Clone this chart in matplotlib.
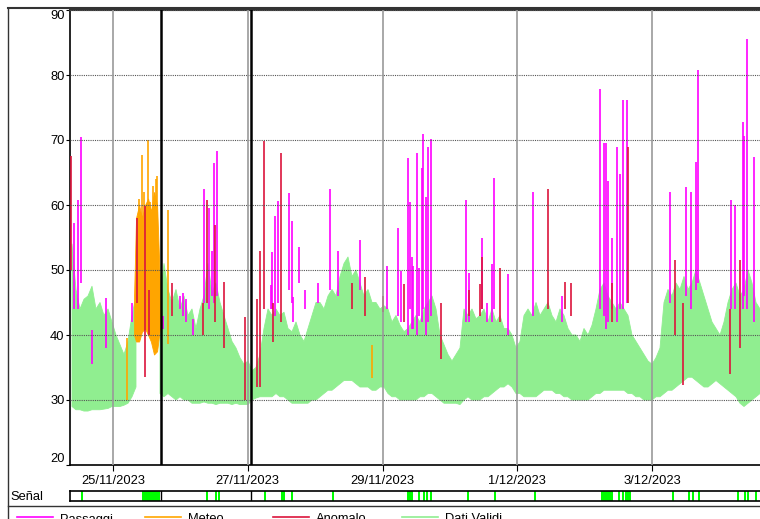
import numpy as np
import pandas as pd
import matplotlib
matplotlib.use("Agg")
import matplotlib.pyplot as plt
import matplotlib.dates as mdates
from matplotlib.lines import Line2D
from datetime import datetime, timedelta

plt.rcParams['font.family'] = ['Liberation Sans', 'DejaVu Sans']

T0 = datetime(2023, 11, 24)

# Dati Validi: banda min / max su campioni regolari
valid_times = pd.date_range("2023-11-24 09:24", "2023-12-04 14:23", periods=173)
valid_lo = [29.0, 28.5, 28.5, 28.3, 28.3, 28.5, 28.5, 28.5, 28.6, 28.7,
            29.0, 29.0, 29.0, 29.2, 29.5, 30.5, 32.0, np.nan, np.nan, np.nan,
            np.nan, np.nan, 31.0,
            30.5, 31, 30.5, 30, 30.5, 30, 30, 29.5, 29.5, 29.5,
            29.7, 29.5, 29.5, 29.3, 29.5, 29.5, 29.5, 29.3, 29.5, 29.3,
            29.3, 29.3, 30, 30.3, 30.5, 30.5, 30.5, 30.5, 31, 30.5,
            30.5, 30, 29.5, 29.5, 29.5, 29.5, 29.5, 30, 30, 30.5,
            31, 31.5, 31.5, 32, 32.5, 33, 33, 33, 32.5, 32,
            32, 32, 31.5, 31.5, 32, 32, 31, 30.5, 30.5, 30,
            30, 30, 30, 30, 30.5, 30.5, 31, 31, 30.5, 30,
            29.5, 29.5, 29.5, 29.5, 29.3, 30, 30.5, 30, 30, 30,
            30.5, 30.5, 31, 31.5, 32, 32, 32.5, 32, 31, 31,
            30.5, 30.5, 30.5, 30.5, 31, 31.5, 31.5, 31.5, 31, 31,
            30.5, 30.5, 30, 30, 30, 30, 30, 30.5, 31, 31,
            31.5, 31.5, 31.5, 31.5, 31.5, 31.5, 31, 31, 30.5, 30.5,
            30, 30, 30, 30.5, 30.5, 31, 31.5, 31.5, 32, 32.5,
            33, 33.5, 33.5, 33, 32.5, 32, 32, 32.5, 33, 32.5,
            32, 31.5, 31, 30.5, 29.5, 29, 29.5, 30, 30.5, 31]
valid_hi = [54, 47, 44, 45.5, 46, 47.5, 44, 45, 43, 44,
            42, 40, 38.5, 37, 39, 43, 46, np.nan, np.nan, np.nan,
            np.nan, np.nan, 45,
            51, 47, 45, 47, 44, 46, 43, 44, 41, 44,
            46, 51, 46.5, 48, 45, 43, 41, 39, 38, 36.5,
            35.5, 36, 34.5, 35, 37, 41, 44, 43, 44, 43,
            43.5, 41, 40.5, 42, 40, 39, 41, 43, 45, 45,
            44, 46, 47, 46, 49, 51, 52, 49, 50, 48,
            46, 47, 45, 45, 44, 44.5, 44, 42, 43, 41.5,
            40.5, 41, 42, 43, 42, 44, 45, 46, 44, 40,
            38.5, 37, 36, 37, 38, 44, 43, 44, 42.5, 43,
            44, 42, 44, 42, 43, 41, 41, 40, 38, 39,
            43, 44, 43, 45, 43, 44, 45, 43, 42, 44,
            43, 41, 40, 40, 39, 41, 40, 41.5, 44, 47,
            48, 46, 45, 44, 45, 44, 43, 40, 39, 38,
            37, 36, 35.5, 36.5, 38, 45, 47, 46, 48, 47,
            49, 47, 48, 50, 48, 46, 44, 42, 41, 40,
            42, 45, 47, 48, 46, 47, 50, 48, 45, 44]

# Meteo: corpo della banda (ore dal 24/11 00:00)
meteo_h = [31.5, 32.2, 33.3, 34.3, 35.4, 36.5, 37.5, 38.6, 39.7, 40.7]
meteo_lo = [40, 39, 39, 40.5, 41, 40, 39, 37, 37.5, 41]
meteo_hi = [46, 58, 60, 58, 60, 61, 59, 62, 60, 48]
# Meteo: picchi isolati
meteo_sp_h = [29.0, 33.3, 34.2, 35.0, 36.4, 37.2, 38.4, 39.2, 39.8, 43.6, 116.2]
meteo_sp_lo = [30, 45, 45, 45, 45, 45, 45, 45, 45, 38.6, 33.4]
meteo_sp_hi = [39.5, 61, 67.7, 62, 70, 60.5, 63, 64, 64.5, 59.2, 38.5]

# Passaggi
pass_h = [10.2, 11.4, 12.6, 16.5, 21.4, 30.8, 41.8, 47.9, 48.9, 50.0,
          52.5, 56.5, 58.2, 59.1, 60.1, 60.9, 80.2, 80.5, 81.7, 82.9,
          86.7, 87.6, 88.2, 90.2, 92.4, 97.0, 101.3, 104.1, 111.9, 121.5,
          125.4, 126.6, 129.2, 129.8, 130.6, 130.9, 132.4, 133.1, 134.1, 134.5,
          135.3, 136.1, 137.1, 149.7, 150.9, 155.3, 157.1, 159.1, 159.8, 164.5,
          173.6, 183.9, 197.4, 198.8, 199.5, 200.4, 201.7, 203.6, 204.6, 205.7,
          206.9, 222.3, 228.0, 229.8, 231.6, 232.2, 244.1, 245.5, 248.2, 248.6,
          249.7, 252.4]
pass_lo = [44, 44, 48, 35.5, 38, 42, 41, 44, 43, 42,
           40, 45, 44, 46, 45, 46, 44, 44, 43, 45,
           47, 45, 42, 48, 44, 45, 47, 46, 47, 44,
           43, 42, 40, 44, 41, 41, 40, 43, 42, 44,
           40, 42, 43, 42, 42, 44, 42, 42, 44, 40,
           43, 42, 44, 43, 41, 42, 44, 42, 44, 44,
           45, 45, 46, 44, 47, 48, 44, 44, 44, 46,
           44, 42]
pass_hi = [57.3, 60.8, 70.4, 40.7, 45.7, 45, 43, 46, 46.5, 45.5,
           42.5, 62.5, 59.6, 53, 66.5, 68.3, 47.7, 52.7, 58.3, 60.6,
           61.9, 57.5, 45.9, 53.6, 47, 48, 62.5, 53, 54.6, 50.6,
           56.5, 49.8, 67.3, 60.4, 52, 50.6, 68, 50.3, 65.7, 70.9,
           61.3, 69, 70.1, 60.8, 49.5, 54.9, 45, 50.9, 64.2, 49.4,
           62, 46, 77.8, 69.5, 69.5, 63.7, 55, 68.9, 64.7, 76.2,
           76.2, 62, 62.8, 62, 66.6, 80.7, 60.8, 60, 72.8, 70.6,
           85.6, 67.4]

# Anomalo
anom_h = [9.2, 32.4, 35.3, 36.9, 44.9, 55.9, 57.4, 60.3, 63.7, 71.0,
          75.4, 76.3, 77.8, 81.1, 83.7, 109.1, 113.7, 120.2, 127.6, 140.7,
          150.9, 154.7, 155.4, 161.8, 178.9, 185.0, 187.1, 201.7, 207.3, 224.1,
          226.9, 243.6, 247.3]
anom_lo = [50, 45, 33.6, 40, 43, 40, 45, 42, 38, 30,
           32, 32, 44, 39, 42, 44, 43, 43.5, 42, 36.3,
           43, 43, 44, 42, 44, 44, 43, 42, 45, 40,
           32.3, 34, 38]
anom_hi = [67.6, 58, 59.8, 47, 48, 45, 60.8, 57, 48.2, 42.8,
           45.5, 53, 69.8, 45, 68, 48, 49, 46, 47.9, 44.9,
           47, 47.9, 52, 50.3, 62.4, 48.2, 48, 48, 69, 51.6,
           45, 44, 51.6]

# Segnale: intervalli (ore)
senal_start = [12.6, 34.3, 57.1, 60.3, 61.3, 77.8, 83.8, 87.3, 102.0, 128.7,
               132.6, 134.3, 135.5, 136.9, 150.1, 159.7, 173.9, 197.7, 203.7, 205.4,
               206.3, 222.9, 228.9, 230.3, 232.4, 246.1, 248.7, 249.9, 252.6]
senal_end = [12.6, 40.0, 57.1, 60.3, 61.3, 77.8, 84.5, 87.3, 102.0, 130.1,
             132.6, 134.3, 135.5, 136.9, 150.1, 159.7, 173.9, 201.2, 203.7, 205.4,
             207.8, 222.9, 228.9, 230.3, 232.4, 246.1, 248.7, 249.9, 252.6]

marker_h = [41.1, 73.1]
tick_dates = ["2023-11-25", "2023-11-27", "2023-11-29", "2023-12-01", "2023-12-03"]
tick_labels = ["25/11/2023", "27/11/2023", "29/11/2023", "1/12/2023", "3/12/2023"]
y_ticks = [20, 30, 40, 50, 60, 70, 80, 90]


def hnum(hours):
    # ore dal 24/11 -> numero data matplotlib
    return mdates.date2num(T0) + np.asarray(hours, dtype=float) / 24.0


W, H = 760, 519
fig = plt.figure(figsize=(W / 100, H / 100), dpi=100)

ax = fig.add_axes([70 / W, 1 - 465 / H, 690 / W, 455 / H])
xmin, xmax = hnum(8.69), hnum(254.38)

vt = mdates.date2num(valid_times.to_pydatetime())
ax.fill_between(vt, valid_lo, valid_hi, color='#90EE90', lw=0.6, zorder=2)
ax.fill_between(hnum(meteo_h), meteo_lo, meteo_hi, color='#FFA500', lw=0.6, zorder=3)
ax.vlines(hnum(meteo_sp_h), meteo_sp_lo, meteo_sp_hi, color='#FFA500', lw=1.2, zorder=3)
ax.vlines(hnum(pass_h), pass_lo, pass_hi, color='#FF00FF', lw=1.2, zorder=4)
ax.vlines(hnum(anom_h), anom_lo, anom_hi, color='#DC143C', lw=1.2, zorder=5)

for yv in y_ticks[1:]:
    ax.axhline(yv, color='#555555', lw=0.8, ls=(0, (1, 1)), zorder=6)
tick_pos = mdates.date2num([datetime.fromisoformat(d) for d in tick_dates])
for xv in tick_pos:
    ax.axvline(xv, color='#999999', lw=1.2, zorder=6)
for mh in marker_h:
    ax.axvline(hnum(mh), color='black', lw=1.8, zorder=7)

ax.set_xlim(xmin, xmax)
ax.set_ylim(20, 90)
ax.set_yticks(y_ticks)
ax.set_xticks(tick_pos)
ax.set_xticklabels(tick_labels)
ax.tick_params(axis='both', labelsize=9.3, color='black')
ax.tick_params(axis='y', length=3, pad=1)
ax.tick_params(axis='x', length=4, pad=3)
ylabs = ax.get_yticklabels()
ylabs[0].set_va('bottom')
ylabs[-1].set_va('top')
ax.spines['right'].set_visible(False)
for s in ['left', 'bottom']:
    ax.spines[s].set_linewidth(1.2)
ax.spines['top'].set_linewidth(1.5)
ax.spines['top'].set_color('#333333')

# striscia del segnale
sx = fig.add_axes([70 / W, 1 - 501 / H, 690 / W, 10 / H])
sx.set_xlim(xmin, xmax)
sx.set_ylim(0, 1)
for a, b in zip(senal_start, senal_end):
    sx.axvspan(hnum(a), hnum(b + 0.7), color='#00FF00', lw=0)
for mh in marker_h:
    sx.axvline(hnum(mh), color='black', lw=1)
sx.set_xticks([])
sx.set_yticks([])
sx.spines['right'].set_visible(False)
for s in ['left', 'top', 'bottom']:
    sx.spines[s].set_linewidth(1.2)
fig.text(10 / W, 1 - 497 / H, "Señal", fontsize=9.3, va='center', ha='left')

# cornice esterna
fig.add_artist(Line2D([7.5 / W, 1], [1 - 7.5 / H] * 2, color='#333333', lw=1.5))
fig.add_artist(Line2D([7.5 / W] * 2, [0, 1 - 7.5 / H], color='#333333', lw=1.0))
fig.add_artist(Line2D([7.5 / W, 1], [1 - 506 / H] * 2, color='#333333', lw=1.0))

# legenda (tagliata in basso come nell'originale)
legend_items = [("Passaggi", '#FF00FF', 17), ("Meteo", '#FFA500', 145),
                ("Anomalo", '#DC143C', 273), ("Dati Validi", '#90EE90', 402)]
for name, col, x0 in legend_items:
    fig.add_artist(Line2D([x0 / W, (x0 + 36) / W], [1 - 516.5 / H] * 2, color=col, lw=1.2))
    fig.text((x0 + 43) / W, 1 - 519.5 / H, name, fontsize=9.3, va='center', ha='left')

fig.savefig("out.png", dpi=100)
